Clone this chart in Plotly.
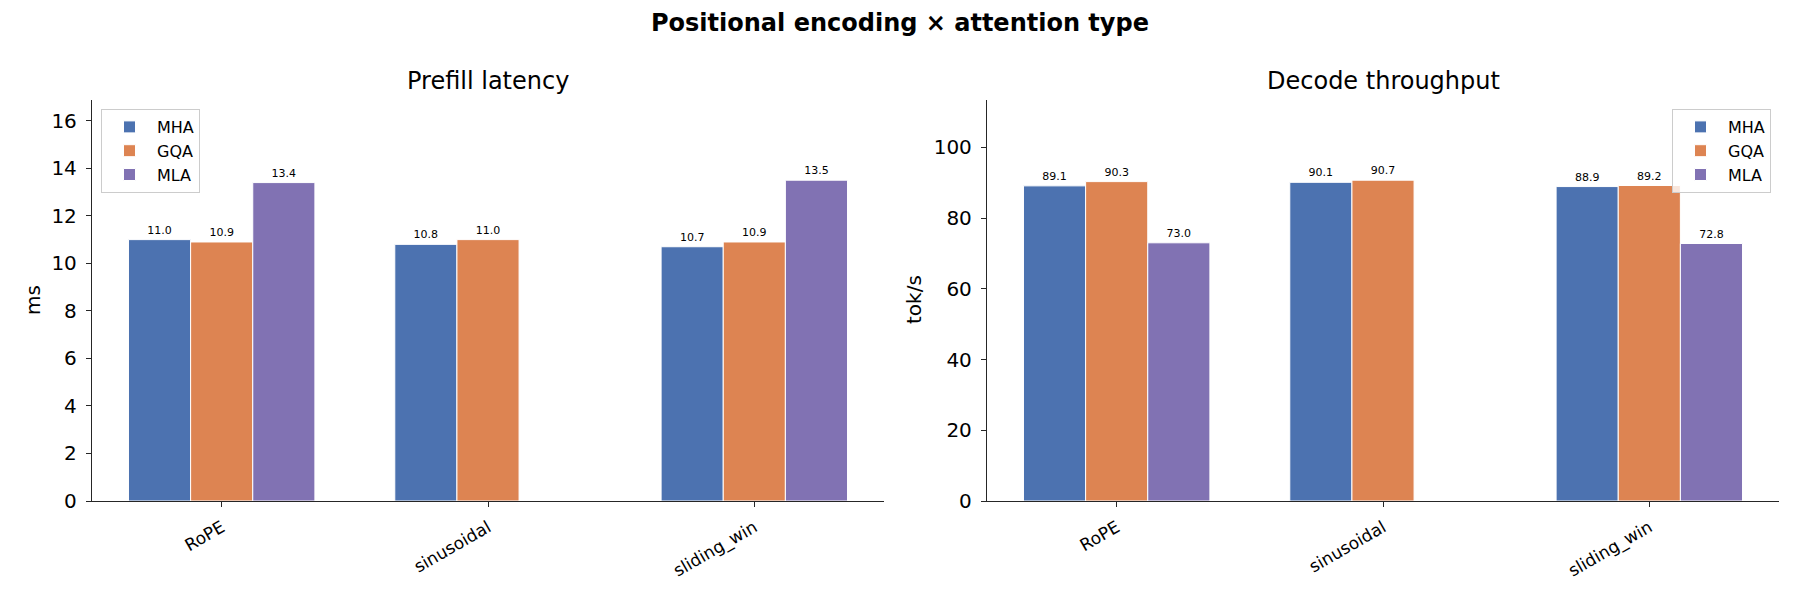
import plotly.graph_objects as go

categories = ["RoPE", "sinusoidal", "sliding_win"]
series_names = ["MHA", "GQA", "MLA"]
prefill_ms = {
    "MHA": [11.0, 10.8, 10.7],
    "GQA": [10.9, 11.0, 10.9],
    "MLA": [13.4, None, 13.5],
}
decode_tok_s = {
    "MHA": [89.1, 90.1, 88.9],
    "GQA": [90.3, 90.7, 89.2],
    "MLA": [73.0, None, 72.8],
}
colors = {"MHA": "#4C72B0", "GQA": "#DD8452", "MLA": "#8172B3"}

FONT = "DejaVu Sans"
AX = "#262626"

fig = go.Figure()

for name in series_names:
    fig.add_trace(go.Bar(
        x=categories, y=prefill_ms[name], name=name,
        marker=dict(color=colors[name], line=dict(color="white", width=1)),
        texttemplate="%{y:.1f}", textposition="outside",
        textfont=dict(family=FONT, size=11, color="black"),
        cliponaxis=False, xaxis="x", yaxis="y", legend="legend",
    ))
for name in series_names:
    fig.add_trace(go.Bar(
        x=categories, y=decode_tok_s[name], name=name,
        marker=dict(color=colors[name], line=dict(color="white", width=1)),
        texttemplate="%{y:.1f}", textposition="outside",
        textfont=dict(family=FONT, size=11, color="black"),
        cliponaxis=False, xaxis="x2", yaxis="y2", legend="legend2",
    ))

xaxis_common = dict(
    type="category", range=[-0.487, 2.487], showline=True, linecolor=AX, linewidth=1.3,
    ticks="outside", ticklen=5, tickwidth=1.3, tickcolor=AX, tickangle=-30,
    tickfont=dict(family=FONT, size=17, color="black"), showgrid=False, zeroline=False,
    automargin=False, ticklabelstandoff=4,
)
yaxis_common = dict(
    showline=True, linecolor=AX, linewidth=1.3, ticks="outside", ticklen=5, tickwidth=1.3,
    tickcolor=AX, tickfont=dict(family=FONT, size=20, color="black"),
    showgrid=False, zeroline=False, automargin=False, ticklabelstandoff=5,
)

legend_common = dict(
    yanchor="top", bgcolor="rgba(255,255,255,0.8)", bordercolor="#cccccc", borderwidth=1,
    font=dict(family=FONT, size=16, color="black"), tracegroupgap=0, itemwidth=45,
)

fig.update_layout(
    width=1800, height=600,
    margin=dict(l=0, r=0, t=0, b=0, autoexpand=False),
    paper_bgcolor="white", plot_bgcolor="white",
    barmode="group", bargap=0.3, bargroupgap=0,
    font=dict(family=FONT, color="black"),
    xaxis=dict(domain=[92/1800, 884/1800], anchor="y", **xaxis_common),
    xaxis2=dict(domain=[987/1800, 1779/1800], anchor="y2", **xaxis_common),
    yaxis=dict(domain=[1-501/600, 1-100/600], anchor="x", range=[0, 16.875],
               tickvals=[0, 2, 4, 6, 8, 10, 12, 14, 16], **yaxis_common),
    yaxis2=dict(domain=[1-501/600, 1-100/600], anchor="x2", range=[0, 113.375],
                tickvals=[0, 20, 40, 60, 80, 100], **yaxis_common),
    legend=dict(x=101/1800, y=1-109/600, xanchor="left", **legend_common),
    legend2=dict(x=1771/1800, y=1-109/600, xanchor="right", **legend_common),
    showlegend=True,
    annotations=[
        dict(text="<b>Positional encoding × attention type</b>", x=0.5, y=1-23/600,
             xref="paper", yref="paper", showarrow=False, xanchor="center", yanchor="middle",
             font=dict(family=FONT, size=24, color="black")),
        dict(text="Prefill latency", x=(92+884)/2/1800, y=1-81/600,
             xref="paper", yref="paper", showarrow=False, xanchor="center", yanchor="middle",
             font=dict(family=FONT, size=24, color="black")),
        dict(text="Decode throughput", x=(987+1779)/2/1800, y=1-81/600,
             xref="paper", yref="paper", showarrow=False, xanchor="center", yanchor="middle",
             font=dict(family=FONT, size=24, color="black")),
        dict(text="ms", x=33/1800, y=1-300/600, textangle=-90,
             xref="paper", yref="paper", showarrow=False, xanchor="center", yanchor="middle",
             font=dict(family=FONT, size=20, color="black")),
        dict(text="tok/s", x=914/1800, y=1-300/600, textangle=-90,
             xref="paper", yref="paper", showarrow=False, xanchor="center", yanchor="middle",
             font=dict(family=FONT, size=20, color="black")),
    ],
)

fig.write_html("out.html")
